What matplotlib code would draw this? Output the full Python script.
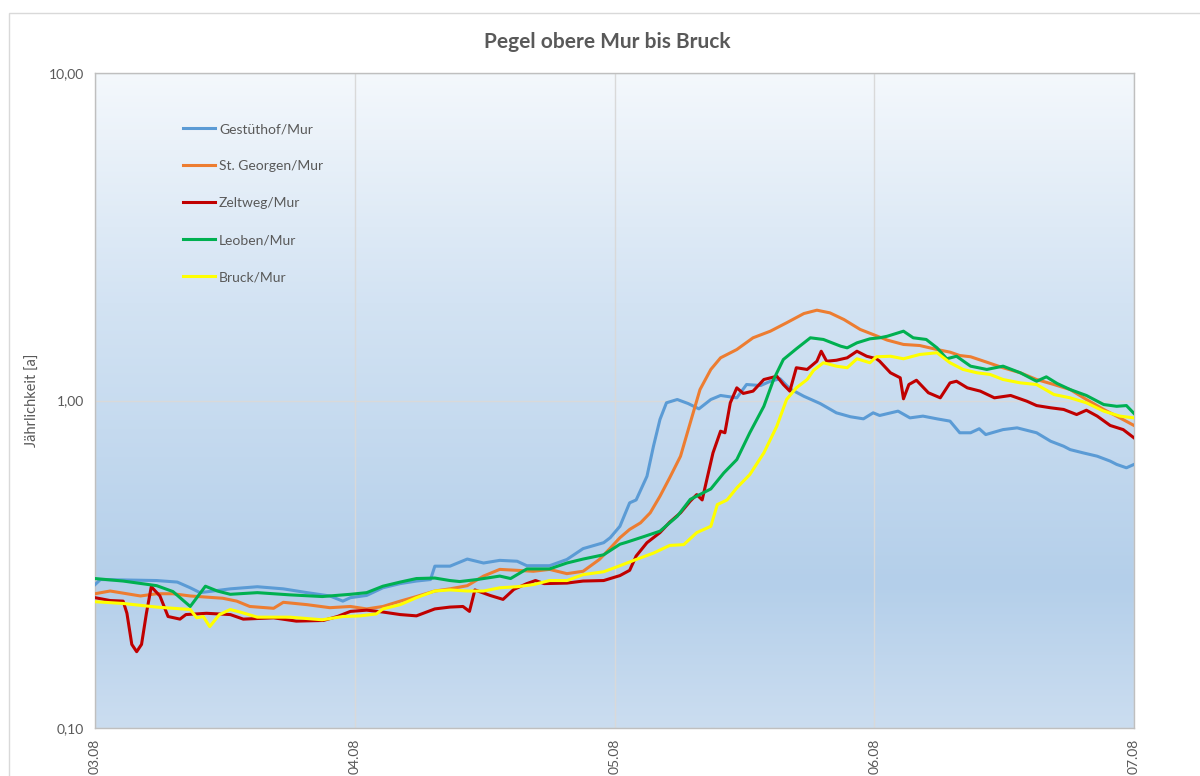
import matplotlib
matplotlib.use("Agg")

import matplotlib.pyplot as plt
import numpy as np
from matplotlib.colors import LinearSegmentedColormap
from matplotlib.patches import Rectangle

# Daten (Stunden ab 03.08 00:00, Jährlichkeit in Jahren)
gest_h = [0, 0.5, 5.7, 7.6, 8.8, 9.7, 12.5, 15, 17.4, 19.6, 21.7, 22.9, 23.6,
          25.1, 26.6, 28.2, 29.7, 31, 31.4, 32.8, 34.4, 35.9, 37.4, 39, 39.9, 42,
          43.6, 45.1, 47, 47.6, 48.5, 49.4, 50, 51, 51.6, 52.2, 52.8, 53.8, 54.8,
          55.8, 56.9, 57.8, 59.3, 60.2, 61.5, 62.4, 63.3, 64.2, 65.5, 67, 68.5,
          69.8, 71, 71.9, 72.5, 74.2, 75.3, 76.5, 77.8, 79, 79.9, 80.9, 81.7, 82.3,
          83.9, 85.2, 87, 88.3, 89.5, 90.1, 91.3, 92.6, 93.8, 94.4, 95.3, 96]
gest_v = [0.274, 0.284, 0.282, 0.279, 0.268, 0.259, 0.266, 0.270, 0.266, 0.259,
          0.253, 0.244, 0.250, 0.254, 0.268, 0.276, 0.281, 0.284, 0.312, 0.312,
          0.328, 0.319, 0.325, 0.323, 0.313, 0.313, 0.327, 0.353, 0.368, 0.381,
          0.413, 0.487, 0.497, 0.587, 0.725, 0.875, 0.984, 1.007, 0.979, 0.943,
          1.007, 1.036, 1.019, 1.119, 1.111, 1.145, 1.165, 1.086, 1.030, 0.979,
          0.917, 0.892, 0.879, 0.917, 0.900, 0.928, 0.885, 0.896, 0.879, 0.865,
          0.797, 0.797, 0.820, 0.787, 0.815, 0.825, 0.797, 0.751, 0.725, 0.708,
          0.692, 0.676, 0.653, 0.638, 0.623, 0.638]

georg_h = [0, 1.4, 4.2, 5.7, 7.2, 8.8, 11.8, 13.1, 14.3, 16.5, 17.4, 19.6, 21.7,
           23.6, 25.1, 26.6, 28.2, 29.7, 31.4, 32.8, 34.4, 35.9, 37.4, 39, 40.5,
           42, 43.6, 45.1, 46.6, 47.5, 48.5, 49.4, 50.4, 51.3, 52.2, 53.1, 54.1,
           55, 55.9, 56.9, 57.8, 59.3, 60.8, 62.4, 63.9, 65.5, 66.7, 67.9, 69.2,
           70.7, 71.9, 73.2, 74.7, 76.2, 77.8, 79, 79.9, 80.9, 82.4, 83.9, 85.5,
           87, 88.6, 90.1, 91.6, 93.2, 94.7, 96]
georg_v = [0.257, 0.262, 0.253, 0.257, 0.257, 0.253, 0.249, 0.244, 0.235, 0.232,
           0.242, 0.238, 0.233, 0.235, 0.231, 0.235, 0.244, 0.252, 0.262, 0.266,
           0.272, 0.291, 0.305, 0.303, 0.301, 0.305, 0.296, 0.301, 0.327, 0.351,
           0.381, 0.404, 0.423, 0.454, 0.510, 0.581, 0.676, 0.855, 1.080, 1.244,
           1.350, 1.431, 1.554, 1.628, 1.727, 1.843, 1.887, 1.852, 1.767, 1.648,
           1.590, 1.529, 1.483, 1.472, 1.431, 1.405, 1.372, 1.360, 1.309, 1.259,
           1.215, 1.159, 1.119, 1.080, 1.007, 0.939, 0.885, 0.839]

zelt_h = [0, 1.4, 2.6, 2.95, 3.4, 3.85, 4.3, 4.75, 5.2, 6.0, 6.75, 7.85, 8.4, 10.3,
          12.5, 13.7, 16.5, 18.6, 21.1, 22.4, 23.6, 25.1, 26.6, 28.2, 29.7, 31.4,
          32.8, 34, 34.6, 35.1, 36.5, 37.7, 38.7, 39.9, 40.7, 41.5, 43.6, 45.1,
          47, 48.5, 49.4, 50, 51, 52.2, 53.1, 54.1, 55, 55.6, 56.1, 56.6, 57.1,
          57.8, 58.2, 58.7, 59.3, 59.9, 60.8, 61.8, 63, 63.6, 64.2, 64.8, 65.8,
          66.7, 67.1, 67.6, 68.5, 69.5, 70.4, 71.3, 72.2, 72.5, 73.5, 74.4, 74.7,
          75.2, 75.9, 77, 78.1, 79, 79.6, 80.6, 81.8, 83.1, 84.6, 86.1, 87, 88.3,
          89.5, 90.7, 91.6, 92.6, 93.8, 95, 96]
zelt_v = [0.250, 0.245, 0.244, 0.224, 0.180, 0.171, 0.180, 0.224, 0.270, 0.253,
          0.219, 0.215, 0.222, 0.224, 0.222, 0.215, 0.217, 0.212, 0.213, 0.219,
          0.227, 0.229, 0.226, 0.222, 0.220, 0.231, 0.234, 0.235, 0.227, 0.264,
          0.254, 0.247, 0.265, 0.276, 0.282, 0.276, 0.277, 0.281, 0.282, 0.292,
          0.303, 0.335, 0.368, 0.395, 0.425, 0.454, 0.493, 0.516, 0.497, 0.587,
          0.692, 0.806, 0.797, 0.984, 1.093, 1.051, 1.068, 1.159, 1.186, 1.119,
          1.068, 1.259, 1.244, 1.318, 1.414, 1.318, 1.327, 1.350, 1.414, 1.365,
          1.341, 1.318, 1.215, 1.173, 1.012, 1.119, 1.153, 1.056, 1.019, 1.132,
          1.145, 1.093, 1.068, 1.019, 1.036, 0.995, 0.965, 0.950, 0.939, 0.906,
          0.934, 0.896, 0.839, 0.815, 0.769]

leob_h = [0, 2.6, 5.7, 7.2, 8.8, 10.2, 11.3, 12.5, 15, 18, 21, 23.6, 25.1, 26.6,
          28.2, 29.7, 31.4, 32.8, 33.7, 35.3, 37.4, 38.4, 39.9, 42, 43.6, 45.1,
          47, 48.5, 49.1, 50.7, 52.2, 53.8, 55, 56.9, 58.1, 59.3, 60.5, 61.8,
          62.7, 63.6, 64.8, 66.1, 67.3, 68.9, 69.5, 70.4, 71.6, 72.5, 73.2, 74.7,
          75.6, 76.8, 77.8, 78.7, 79.6, 80.9, 82.4, 83.9, 85.5, 87, 87.9, 88.9,
          90.1, 91.6, 93.2, 94.4, 95.3, 96]
leob_v = [0.286, 0.281, 0.272, 0.261, 0.235, 0.271, 0.262, 0.256, 0.259, 0.255,
          0.252, 0.256, 0.259, 0.271, 0.279, 0.286, 0.287, 0.282, 0.280, 0.284,
          0.291, 0.286, 0.306, 0.306, 0.319, 0.328, 0.338, 0.364, 0.369, 0.384,
          0.399, 0.443, 0.499, 0.537, 0.601, 0.660, 0.797, 0.960, 1.159, 1.334,
          1.438, 1.554, 1.536, 1.465, 1.448, 1.500, 1.543, 1.554, 1.571, 1.628,
          1.554, 1.536, 1.448, 1.341, 1.365, 1.273, 1.244, 1.273, 1.215, 1.145,
          1.181, 1.127, 1.080, 1.036, 0.972, 0.960, 0.965, 0.913]

bruck_h = [0, 2.6, 5.7, 8.8, 9.4, 10, 10.6, 11.5, 12.5, 13.4, 15, 18, 21, 22.9,
           24.5, 26, 26.6, 28.2, 29.7, 31.4, 32.8, 34.4, 35.9, 37.4, 39, 40.5, 42,
           43.6, 45.1, 47, 48.5, 50, 51.6, 53.1, 54.4, 55.6, 56.9, 57.5, 58.4,
           59.3, 60.5, 61.8, 63, 63.9, 64.8, 65.8, 66.4, 67.3, 68.5, 69.5, 70.4,
           71.6, 72.2, 73.5, 74.7, 76.2, 77.8, 79, 80.2, 81.5, 82.7, 83.9, 85.5,
           87, 88.6, 90.1, 91.6, 93.2, 94.7, 96]
bruck_v = [0.243, 0.240, 0.234, 0.230, 0.217, 0.219, 0.204, 0.222, 0.230, 0.226,
           0.218, 0.218, 0.214, 0.219, 0.220, 0.223, 0.231, 0.238, 0.250, 0.262,
           0.264, 0.262, 0.262, 0.268, 0.270, 0.274, 0.282, 0.282, 0.294, 0.300,
           0.313, 0.327, 0.342, 0.361, 0.363, 0.395, 0.413, 0.481, 0.497, 0.541,
           0.594, 0.692, 0.835, 1.007, 1.093, 1.159, 1.237, 1.304, 1.273, 1.259,
           1.341, 1.304, 1.360, 1.365, 1.341, 1.382, 1.399, 1.304, 1.244, 1.215,
           1.201, 1.159, 1.132, 1.119, 1.043, 1.019, 0.984, 0.928, 0.896, 0.885]

tage = ["03.08", "04.08", "05.08", "06.08", "07.08"]

grau = "#595959"

fig = plt.figure(figsize=(12, 7.76), dpi=100)
plt.rcParams['font.family'] = ['Lato', 'DejaVu Sans']

# heller Rahmen um das Diagramm
fig.patches.append(Rectangle((9 / 1200, -0.01), 1.2, 1 - 13 / 776 + 0.01,
                             transform=fig.transFigure, fill=False,
                             edgecolor="#D9D9D9", linewidth=1))

ax = fig.add_axes([95 / 1200, 1 - 728 / 776, 1039 / 1200, 655 / 776])

# Verlauf im Hintergrund
cmap = LinearSegmentedColormap.from_list(
    "bg", [(0.0, "#F4F8FC"), (0.35, "#D3E3F3"), (0.78, "#B4CFEA"), (1.0, "#CBDDF0")])
grad = np.linspace(0, 1, 256).reshape(-1, 1)
ax.imshow(grad, cmap=cmap, aspect="auto", extent=[0, 1, 0, 1],
          transform=ax.transAxes, zorder=0)

series = [
    ("Gestüthof/Mur", gest_h, gest_v, "#5B9BD5"),
    ("St. Georgen/Mur", georg_h, georg_v, "#ED7D31"),
    ("Zeltweg/Mur", zelt_h, zelt_v, "#C00000"),
    ("Leoben/Mur", leob_h, leob_v, "#00B050"),
    ("Bruck/Mur", bruck_h, bruck_v, "#FFFF00"),
]
for name, h, v, c in series:
    ax.plot(h, v, color=c, linewidth=2.2, label=name, zorder=3)

ax.set_yscale("log")
ax.set_ylim(0.1, 10)
ax.set_xlim(0, 96)
ax.set_yticks([0.1, 1, 10])
ax.set_yticklabels(["0,10", "1,00", "10,00"])
ax.minorticks_off()
ax.set_xticks([0, 24, 48, 72, 96])
ax.set_xticklabels(tage, rotation=90)
ax.tick_params(axis="both", length=0, labelsize=10, colors=grau, pad=8)

ax.grid(True, color="#D9D9D9", linewidth=1, zorder=1)
for s in ax.spines.values():
    s.set_color("#BFBFBF")
    s.set_linewidth(1)

ax.set_ylabel("Jährlichkeit [a]", color=grau, fontsize=10.5, labelpad=6)
fig.text(0.506, 1 - 42 / 776, "Pegel obere Mur bis Bruck", ha="center",
         va="center", fontsize=15, fontweight="bold", color=grau)

leg = ax.legend(loc="upper left", bbox_to_anchor=(0.078, 0.934), frameon=False,
                fontsize=10, labelspacing=1.8, handlelength=2.3,
                handletextpad=0.3, borderpad=0)
for t in leg.get_texts():
    t.set_color(grau)

plt.savefig("out.png", dpi=100)
plt.close()
